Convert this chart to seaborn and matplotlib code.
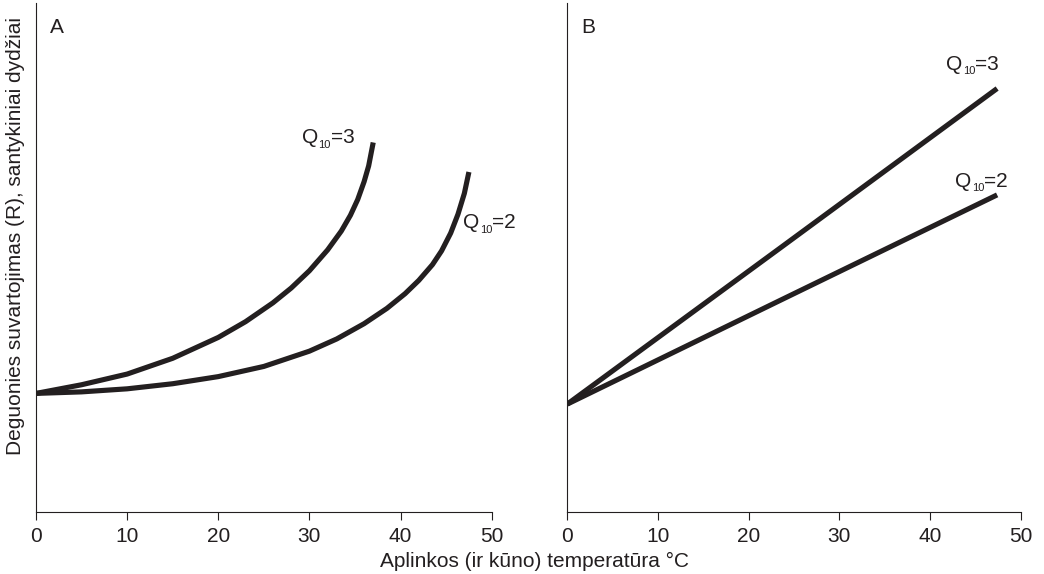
import matplotlib
matplotlib.use("Agg")
import matplotlib.pyplot as plt
import pandas as pd
import seaborn as sns

# Panel A: exponential response of oxygen consumption to temperature
temp_a_q3 = [0, 5, 10, 15, 20, 23, 26, 28, 30, 32, 33.5, 34.5, 35.3, 36.0, 36.5, 37.0]
resp_a_q3 = [23.3, 25.0, 27.1, 30.2, 34.3, 37.4, 41.1, 44.0, 47.4, 51.5, 55.2, 58.3, 61.4, 64.9, 68.0, 72.6]

temp_a_q2 = [0, 5, 10, 15, 20, 25, 30, 33, 36, 38.5, 40.5, 42, 43.5, 44.5, 45.5, 46.3, 47.0, 47.5]
resp_a_q2 = [23.3, 23.6, 24.2, 25.2, 26.6, 28.6, 31.6, 34.0, 37.0, 40.0, 42.9, 45.5, 48.6, 51.3, 54.8, 58.5, 62.6, 66.8]

# Panel B: the same responses on a logarithmic (straight-line) scale
temp_b_q3 = [0, 23.5, 47.4]
resp_b_q3 = [21.2, 51.9, 83.2]

temp_b_q2 = [0, 23.5, 47.4]
resp_b_q2 = [21.2, 41.6, 62.3]

x_ticks = [0, 10, 20, 30, 40, 50]
panel_letters = ["A", "B"]
q10_values = ["3", "2"]

INK = "#231f20"
FS = 15

sns.set_theme(style="ticks")
plt.rcParams["font.family"] = ["Liberation Sans", "DejaVu Sans"]
plt.rcParams["axes.edgecolor"] = INK
plt.rcParams["axes.linewidth"] = 0.8


def series_frame(temps, resps, name):
    return pd.DataFrame({"temp": temps, "resp": resps, "series": name})


df_a = pd.concat([series_frame(temp_a_q3, resp_a_q3, "Q3"),
                  series_frame(temp_a_q2, resp_a_q2, "Q2")], ignore_index=True)
df_b = pd.concat([series_frame(temp_b_q3, resp_b_q3, "Q3"),
                  series_frame(temp_b_q2, resp_b_q2, "Q2")], ignore_index=True)

W, H = 1044, 574
fig = plt.figure(figsize=(W / 100, H / 100), dpi=100)
ax_a = fig.add_axes([36 / W, 1 - 512 / H, (491.7 - 36) / W, (512 - 3) / H])
ax_b = fig.add_axes([567.3 / W, 1 - 512 / H, (1020.7 - 567.3) / W, (512 - 3) / H])


def q10_label(ax, x, y, value):
    q = ax.text(x, y, "Q", fontsize=FS, ha="left", va="baseline", color=INK)
    sub = ax.annotate("10", xy=(1, y), xycoords=(q, "data"), xytext=(0.1, -3),
                      textcoords="offset points", fontsize=8, ha="left",
                      va="baseline", color=INK)
    ax.annotate("=" + value, xy=(1, y), xycoords=(sub, "data"), xytext=(0.1, 0),
                textcoords="offset points", fontsize=FS, ha="left",
                va="baseline", color=INK)


for ax, df, letter in [(ax_a, df_a, panel_letters[0]), (ax_b, df_b, panel_letters[1])]:
    sns.lineplot(data=df, x="temp", y="resp", units="series", estimator=None,
                 sort=False, color=INK, linewidth=3.7, ax=ax, legend=False,
                 solid_capstyle="butt", solid_joinstyle="round")
    ax.set_xlim(0, 50)
    ax.set_ylim(0, 100)
    ax.set_xticks(x_ticks)
    ax.set_xticklabels([str(t) for t in x_ticks])
    ax.set_yticks([])
    ax.set_xlabel("")
    ax.set_ylabel("")
    ax.tick_params(axis="x", length=6, width=0.8, pad=5, labelsize=FS,
                   color=INK, labelcolor=INK, direction="out")
    sns.despine(ax=ax)
    ax.text(0.031, 0.941, letter, transform=ax.transAxes, fontsize=FS,
            ha="left", va="baseline", color=INK)

q10_label(ax_a, 29.2, 72.4, q10_values[0])
q10_label(ax_a, 46.9, 55.7, q10_values[1])
q10_label(ax_b, 41.8, 86.8, q10_values[0])
q10_label(ax_b, 42.8, 63.9, q10_values[1])

fig.text(534 / W, 1 - 561 / H, "Aplinkos (ir kūno) temperatūra °C",
         ha="center", va="center", fontsize=FS, color=INK)
fig.text(16 / W, 1 - 236 / H, "Deguonies suvartojimas (R), santykiniai dydžiai",
         rotation=90, ha="center", va="center", fontsize=FS, color=INK)

fig.savefig("out.png", dpi=100)
